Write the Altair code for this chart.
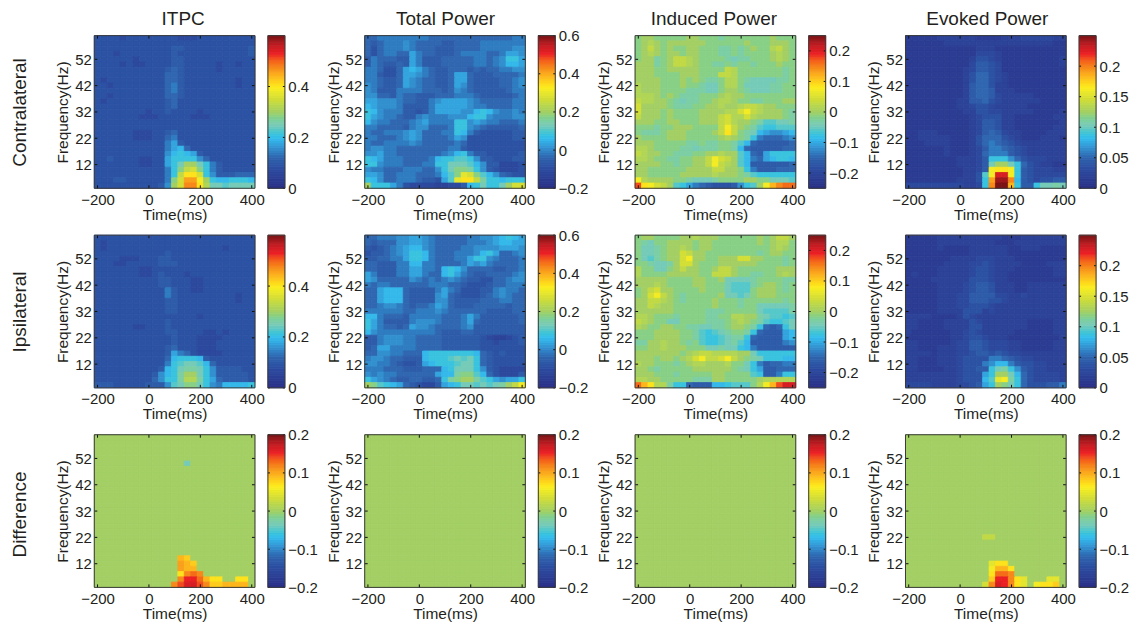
import altair as alt
import pandas as pd

FONT = "Liberation Sans"
INK = "#231f20"
N_LEVELS = 34
LEVEL_CODES = "0123456789abcdefghijklmnopqrstuvwxyz"

TIMES = [-200 + 25 * i for i in range(25)]
FREQS_TOP_DOWN = [60 - 2 * i for i in range(29)]
X_TICKS = [-200, 0, 200, 400]
Y_TICKS = [12, 22, 32, 42, 52]
COL_TITLES = ["ITPC", "Total Power", "Induced Power", "Evoked Power"]
COL_TITLE_DX = [89, 81, 79, 82]
ROW_TITLES = ["Contralateral", "Ipsilateral", "Difference"]
ROW_TITLE_DY = [0.5, 0.5, 3.5]

CMAP_POS = [0, .125, .2, .27, .33, .42, .5, .58, .66, .72, .78, .88, .94, 1]
CMAP_COL = ["#2b2f86", "#2c4b9f", "#3063ad", "#3494d2", "#36bdee", "#7ecbb4", "#a3cf64",
            "#cfdc38", "#fbee1f", "#fdc21f", "#f7941e", "#ed2024", "#c11d22", "#7a1416"]

RANGES = {
    "itpc": (0, 0.6), "total": (-0.2, 0.6), "induced": (-0.25, 0.25),
    "evoked": (0, 0.25), "diff": (-0.2, 0.2),
}
BAR_TICKS = {
    "itpc": [0, 0.2, 0.4], "total": [-0.2, 0, 0.2, 0.4, 0.6],
    "induced": [-0.2, -0.1, 0, 0.1, 0.2], "evoked": [0, 0.05, 0.1, 0.15, 0.2],
    "diff": [-0.2, -0.1, 0, 0.1, 0.2],
}

ITPC_CONTRA = [
"55554 55555 55544 45555 55555","55555 55555 55555 55555 55555","55555 55555 55665 55555 55556",
"55545 55555 55655 55555 55556","55555 54555 55665 55555 55555","55554 54455 55665 55554 55455",
"55555 55555 56765 55554 55555","55555 55555 57765 55555 55555","54555 55555 57765 55555 55455",
"55455 55555 57865 55555 55455","55555 55555 57865 55555 55555","55455 55555 57765 55555 55555",
"54555 55555 56755 55555 55555","55555 55555 56755 55555 55555","55555 55545 56555 54555 55555",
"55555 55444 55555 44455 55555","55555 55555 55555 55555 55555","55555 55555 55555 55555 55555",
"55555 54445 56755 55555 55555","55555 54445 57855 55555 55555","55555 55555 58a65 55555 55555",
"55555 55555 58ab7 55555 55555","55555 55555 59bcb a6555 55555","55655 55445 5accc c9755 55555",
"55555 55445 5aceh hec86 55555","55555 55555 58cgj kgc86 55555","55555 55555 58cjn nkc96 66777",
"55566 55555 58gkq qmhcb bcccb","55555 55555 69hkr rniee deeee",
]
TOTAL_CONTRA = [
"77888 88888 77777 77777 77788","76788 89877 77667 77788 88888","75788 89877 76667 77788 88899",
"75788 77a87 76667 88887 78aa9","68777 66a86 66777 77887 89cca","68766 76a86 66777 77887 89bba",
"88755 7aba8 76677 76767 78899","88655 7aa98 7667a a7666 77778","88766 7a987 7667a a7666 67789",
"98766 7a987 7667a 97666 67789","98666 88887 77679 87666 66788","99776 87766 67778 88766 66678",
"aa999 87766 89aaa a9877 77788","ba999 86666 8aaaa a9887 77788","cb988 86656 8aaaa 99bcb 98898",
"ca988 76689 88899 9bcc9 88899","b9887 7789a 8888c c9a98 87778","88777 76899 7778c c9876 66667",
"87788 89a97 7788c b8655 55566","88777 89a97 7778a 95555 55566","87788 88987 77778 75555 55555",
"89988 77777 77788 65555 55555","99a88 77777 7789b c8665 55556","cba88 87777 8bccd dc966 55566",
"cc988 87778 8ccee edb96 64445","98877 78887 79ceg gfc96 54445","aa977 88877 78bdg lkgdb 97655",
"cb977 88876 65adl nnjfc cbccc","hccca 85444 43344 6bcec cehkk",
]
INDUCED_CONTRA = [
"ghhgg ggghh gggfg ggggg ghggg","ghihg hhhhh hgggg gghgg ghhhg","ghjhg hgghh gggff gfghg gijhg",
"ghihg hhghh gggff gfggg ghihg","ghhfg hjjih ggggf effgg ghihg","hhhfg hjjih ggffg fggfg gghgg",
"hhhgg hhhhh ggggj igggg gggfg","hhhgg gghhh gggjj igggg gggfg","hhhhg gghgh gffgi igfee eeffg",
"ihhhg gghgg feegi igeee effgg","ihhhg gggff feegh hgfee effgg","iiihg hgfff ggghi hhggg ggggg",
"jiihh gfeff gghii hggff ggghh","khhhh gfffg ghhih hijji hhggg","khhhg hgggg hhhhi ikmji hhhgf",
"jhhhg hgggg hhhjk iikih hhhgf","hhhgg hhggg hhhjk ihhgf ddeef","gggfg ghhhg gggjm jhgfd ccddd",
"gfffg hhhgg gghjn jgfeb a99ab","hgggg hhhgg ggghi hgfc8 77789","hhhgg gggff gffgg fdb76 66667",
"iihgg ggffe fffgg fb766 66677","jihhg gfffg ghhih hdb76 acccc","iihgg ffggh hjmkj hdb87 abccb",
"hhhhg gfggh hjmji hdb66 66667","hhggg ggghh hhjjh hgc86 66777","hhggg gghhh hhihh hgfdc ccccc",
"mihhh hggfe eefgg gghhg geeed","tnmkj hdca8 76555 69cdh mprss",
]
EVOKED_CONTRA = [
"22222 33333 32222 33344 44433","22222 23333 33333 33333 33322","22222 22222 23332 22222 22222",
"22222 22222 24443 22222 22222","22222 22222 35543 22222 22223","22222 22222 46654 22222 22223",
"22222 22223 46654 22222 22222","22222 22223 57754 32222 22222","22222 22223 57754 32222 22222",
"22222 22223 67753 32222 22222","22222 22223 67763 33222 22222","22222 22223 67764 33333 22222",
"22222 22233 66754 33333 32222","22222 22233 45543 33332 22222","22222 22223 35544 33333 22223",
"22222 22222 34555 33222 22233","22222 22222 34665 33222 22223","22222 22222 34665 33222 22233",
"22333 22222 34676 43322 22333","22333 33222 35777 54322 23332","22233 33222 35787 65433 33333",
"22222 23222 34688 76543 33333","22222 23222 34788 86543 33333","22222 22233 346cc c9754 44333",
"22222 22233 346eh hec75 43322","22222 22223 346mn nmc65 44433","22222 22223 35dmv vmc65 44444",
"22222 22233 35cqx xrb65 45566","44444 44443 34crz zpc66 ceefe",
]
ITPC_IPSI = [
"55555 55555 55555 55555 55555","54555 55555 55555 55555 55555","54555 55555 55555 55555 45555",
"55555 55555 56555 55555 55555","55554 44555 66555 55555 55555","55544 55555 66655 55555 55555",
"55555 55445 55555 55555 55555","55555 55445 65554 55555 55555","55555 55555 66555 44555 55555",
"55555 55555 66555 44555 55555","55555 55555 58655 44555 55555","55555 55555 58655 55555 55455",
"55555 55555 56655 55555 55455","55555 55555 56655 55555 55555","55555 55555 56655 55555 55555",
"55555 55555 55555 54555 55555","55555 55555 56555 55555 55555","55555 54455 56555 55555 55555",
"55555 55555 56655 55445 45555","55555 55555 55655 54444 55555","55555 55555 55655 54445 55555",
"55555 55555 56755 54445 55555","55555 55555 56a87 54444 55555","55555 55555 57bcc cb655 55555",
"55555 55555 58cde edb75 55555","55555 55555 6bcef fec96 66655","55555 55556 9bcfh hec96 66665",
"55555 55557 9ccfi ifca7 66665","66655 55566 69deg gec98 bbbbc",
]
TOTAL_IPSI = [
"77888 99aa9 87777 78899 abcba","76777 99aa9 87777 78889 abbaa","65678 9abb9 87777 88999 9aaa9",
"56678 9accb 87778 889bc a7789","66778 8accb 87778 8acc9 87778","77666 88bb8 87777 8a9a8 77778",
"77666 88aa8 87bcb 97777 66778","a8666 88aa8 77bca 87667 77789","a9777 77987 87898 76655 77899",
"87887 77777 88877 65556 77888","77abb b7666 68a87 55566 89887","77abb b7666 69a76 55567 89877",
"77abb b7666 69976 66677 78877","77899 87677 8a976 66777 77677","88888 87788 89877 77776 66677",
"bb877 76888 88777 8a866 66667","ca866 66899 98777 8a766 66667","ca877 67a99 87777 89666 66666",
"b9888 88888 87666 77666 66666","66899 98877 77666 66654 33456","66899 98877 77666 66655 45556",
"67aa8 88877 77666 66655 55555","77998 8777b ccccc ccb76 56555","89987 7666b cccde dec76 55555",
"99887 6556a bcccd eec76 55555","88877 76667 77bce eec96 54444","98988 77777 7abbf ggdb7 54446",
"ca987 66776 67cfg hhfdc a9aac","hgdcb a7654 46abc eeded efhjm",
]
INDUCED_IPSI = [
"ghhgg gghhi hhhgg ggggh ghjjh","gfegg hhhhg hhggg ggggh ghiig","geefg hhihg hhggg ggggg ghihg",
"geefg hhkjh hgggg ggggf ghhgg","gedfg hhkmh hgghh hkkhh gggfg","ggfee fhkkh ggghh hhhhg gggfg",
"iggee ghjhh gghjj hgggg gghhh","igggg hhhhh ggjjj hggff gghih","hhhhh ggggh hgghe eeefg gggff",
"hhhih ggggh hggge dddfg hhgfg","ghjkh hgggg hggge dddgh hhgfg","ghkmj hgfgg ggghe edegh hhggg",
"hhjji hgfgg gghgg gfggg gggfg","hhjih hgggg gghgg gfgge eeeef","hhhhh hgggg gfffg gggge ddddf",
"iihgg gfggg gffgg iihhf eddcd","jihgg eeggg gfffg hihgf dccde","ihggh hggff eeffg hhgfc 767ce",
"ggghh hhggf dcdef ggfc7 666ab","ggghh hhggf dccde ffc76 666ab","ffhhi hhgfg dccde fdb66 66689",
"gghhi hhhgg geefe ecb86 66666","hhhhh hhghi jjiii ihhec ccccc","hhhgh hghik mjjkm jhgfe cccbb",
"ihhgg gfghi ihhhi ggec8 67788","hhgfg ggggh hhhhh gfeca 66777","hhhgg gfggg gghhg gggdc 668cc",
"iihhg ggggf ffhhg ggggh iiiii","spnii fcc76 66bbc dddgi mptvv",
]
EVOKED_IPSI = [
"22222 33333 33333 22233 33333","22222 33333 33332 22333 33333","22222 32222 33333 32233 32222",
"22222 22222 33333 32222 22222","22222 22333 34443 33222 22222","22222 23333 44543 33322 22333",
"22222 33333 45543 33222 22233","23222 33333 45543 32222 22233","22223 33333 55543 32222 22222",
"22222 33334 56653 33223 33333","22222 33334 56653 33223 33333","22222 33344 66664 43343 33333",
"22222 33344 66655 43333 33333","22222 33344 55543 33333 33333","22222 33335 55343 33333 33333",
"33332 22235 43333 33333 33333","33222 23333 54333 33332 22233","33222 23333 55333 33332 22233",
"32222 22334 54333 33222 22233","22222 22334 55433 32222 22223","33222 22344 66544 43322 22233",
"33222 33344 66544 43322 22233","33332 33344 56656 54433 33333","33222 33345 55588 76544 33333",
"33222 33345 5589b b8655 44333","33222 23345 566ce fc965 44333","33333 33345 55ach heb75 44443",
"33333 33345 55bdl mfc75 44443","44443 33344 56ach gec75 55668",
]
BLANK = "hhhhh hhhhh hhhhh hhhhh hhhhh"
ITPC_DIFF = [BLANK] * 29
ITPC_DIFF[5] = "hhhhh hhhhh hhhhe hhhhh hhhhh"
ITPC_DIFF[23] = "hhhhh hhhhh hhhpo hhhhh hhhhh"
ITPC_DIFF[24] = "hhhhh hhhhh hhhqp ohhhh hhhhh"
ITPC_DIFF[25] = "hhhhh hhhhh hhhqp phhhh hhhhh"
ITPC_DIFF[26] = "hhhhh hhhhh hhhnr srhhh hhhhh"
ITPC_DIFF[27] = "hhhhh hhhhh hhhru uspnn hhnnh"
ITPC_DIFF[28] = "hhhhh hhhhh hhrtv vtroo pppph"
TOTAL_DIFF = [BLANK] * 29
INDUCED_DIFF = [BLANK] * 29
EVOKED_DIFF = [BLANK] * 29
EVOKED_DIFF[19] = "hhhhh hhhhh hhjjh hhhhh hhhhh"
EVOKED_DIFF[24] = "hhhhh hhhhh hhhln nhhhh hhhhh"
EVOKED_DIFF[25] = "hhhhh hhhhh hhhmp pnhhh hhhhh"
EVOKED_DIFF[26] = "hhhhh hhhhh hhhns srhhh hhhhh"
EVOKED_DIFF[27] = "hhhhh hhhhh hhhou urnlh hhllh"
EVOKED_DIFF[28] = "hhhhh hhhhh hhkrv urnlh mnnoh"

GRID = [
    [("itpc", ITPC_CONTRA), ("total", TOTAL_CONTRA), ("induced", INDUCED_CONTRA), ("evoked", EVOKED_CONTRA)],
    [("itpc", ITPC_IPSI), ("total", TOTAL_IPSI), ("induced", INDUCED_IPSI), ("evoked", EVOKED_IPSI)],
    [("diff", ITPC_DIFF), ("diff", TOTAL_DIFF), ("diff", INDUCED_DIFF), ("diff", EVOKED_DIFF)],
]

HW, HH, CW, GAP, SP = 161, 153, 17, 13, 53.5
X_DOM = [-212.5, 412.5]
Y_DOM = [3, 61]

AXIS_STYLE = dict(ticks=False, domain=False, grid=False, labelFontSize=15, titleFontSize=15.5, labelFlush=False,
                  labelColor=INK, titleColor=INK, labelFont=FONT, titleFont=FONT, titleFontWeight="normal")
X_AXIS = alt.Axis(values=X_TICKS, title="Time(ms)", labelPadding=4, titlePadding=0, **AXIS_STYLE)
Y_AXIS = alt.Axis(values=Y_TICKS, title="Frequency(Hz)", labelPadding=3, titlePadding=4, **AXIS_STYLE)


def color_scale(key):
    lo, hi = RANGES[key]
    return alt.Scale(domain=[lo + p * (hi - lo) for p in CMAP_POS], range=CMAP_COL, clamp=True)


def cells(rows, key):
    lo, hi = RANGES[key]
    out = []
    for r, row in enumerate(rows):
        codes = row.replace(" ", "")
        codes = (codes + codes[-1] * 25)[:25]
        for c, ch in enumerate(codes):
            frac = min(LEVEL_CODES.index(ch) / N_LEVELS, 1)
            f = FREQS_TOP_DOWN[r]
            out.append({"t0": TIMES[c] - 12.5, "t1": TIMES[c] + 12.5, "f0": f - 1, "f1": f + 1,
                        "v": lo + frac * (hi - lo)})
    return pd.DataFrame(out)


def label_layer(text, dx, dy, angle=0, size=19):
    return alt.Chart(alt.Data(values=[{"t": text}])).mark_text(
        font=FONT, fontSize=size, color=INK, angle=angle, align="center", baseline="middle"
    ).encode(text="t:N", x=alt.value(dx), y=alt.value(dy))


def frame(w, h):
    return alt.Chart(alt.Data(values=[{"a": 1}])).mark_rect(
        fillOpacity=0, stroke="#3a3a3a", strokeWidth=1
    ).encode(x=alt.value(0), x2=alt.value(w), y=alt.value(0), y2=alt.value(h))


def heat(rows, key, col, row_i):
    xs = alt.Scale(domain=X_DOM, nice=False, zero=False)
    ys = alt.Scale(domain=Y_DOM, nice=False, zero=False)
    base = alt.Chart(cells(rows, key)).mark_rect(strokeWidth=0.8).encode(
        x=alt.X("t0:Q", scale=xs, axis=X_AXIS),
        x2="t1:Q",
        y=alt.Y("f0:Q", scale=ys, axis=Y_AXIS),
        y2="f1:Q",
        color=alt.Color("v:Q", scale=color_scale(key), legend=None),
        stroke=alt.Stroke("v:Q", scale=color_scale(key), legend=None),
    )
    xt = pd.DataFrame({"x": X_TICKS})
    yt = pd.DataFrame({"y": Y_TICKS})
    tick = dict(color="#111", strokeWidth=1)
    layers = [base]
    for a, b in ((HH, HH - 3), (0, 3)):
        layers.append(alt.Chart(xt).mark_rule(**tick).encode(
            x=alt.X("x:Q", scale=xs, axis=X_AXIS), y=alt.value(a), y2=alt.value(b)))
    for a, b in ((0, 3), (HW, HW - 3)):
        layers.append(alt.Chart(yt).mark_rule(**tick).encode(
            y=alt.Y("y:Q", scale=ys, axis=Y_AXIS), x=alt.value(a), x2=alt.value(b)))
    layers.append(frame(HW, HH))
    if row_i == 0:
        layers.append(label_layer(COL_TITLES[col], COL_TITLE_DX[col], -17))
    if col == 0:
        layers.append(label_layer(ROW_TITLES[row_i], -74, HH / 2 + ROW_TITLE_DY[row_i], angle=270))
    return alt.layer(*layers).properties(width=HW, height=HH)


def colorbar(key):
    lo, hi = RANGES[key]
    n = 64
    data = pd.DataFrame([{"a": lo + i * (hi - lo) / n, "b": lo + (i + 1) * (hi - lo) / n,
                          "v": lo + (i + .5) * (hi - lo) / n} for i in range(n)])
    ys = alt.Scale(domain=[lo, hi], nice=False, zero=False)
    axis = alt.Axis(orient="right", values=BAR_TICKS[key], title=None, ticks=False, domain=False, grid=False,
                    labelFontSize=15, labelPadding=3, labelFlush=False, labelColor=INK, labelFont=FONT, format="~g")
    bar = alt.Chart(data).mark_rect(strokeWidth=0.8).encode(
        x=alt.value(0), x2=alt.value(CW),
        y=alt.Y("a:Q", scale=ys, axis=axis),
        y2="b:Q",
        color=alt.Color("v:Q", scale=color_scale(key), legend=None),
        stroke=alt.Stroke("v:Q", scale=color_scale(key), legend=None),
    )
    tk = pd.DataFrame({"y": BAR_TICKS[key]})
    layers = [bar]
    for a, b in ((0, 2), (CW, CW - 2)):
        layers.append(alt.Chart(tk).mark_rule(color="#111", strokeWidth=1).encode(
            y=alt.Y("y:Q", scale=ys, axis=axis), x=alt.value(a), x2=alt.value(b)))
    layers.append(frame(CW, HH))
    return alt.layer(*layers).properties(width=CW, height=HH)


def spacer():
    return alt.Chart(alt.Data(values=[{"a": 1}])).mark_point(opacity=0).encode(
        x=alt.value(0), y=alt.value(0)).properties(width=SP, height=HH)


panels = []
for ri, row in enumerate(GRID):
    for ci, (key, rows) in enumerate(row):
        panels.append(heat(rows, key, ci, ri))
        panels.append(colorbar(key))
        if ci < 3:
            panels.append(spacer())

chart = alt.concat(*panels, columns=11, spacing={"row": 47, "column": GAP}, align="each", bounds="flush").properties(
    padding={"left": 3.5, "top": 1, "right": 0, "bottom": 0}, background="white"
).resolve_scale(color="independent", stroke="independent").configure_view(stroke=None)

chart.save("out.html", embed_options={"renderer": "svg", "actions": False})
